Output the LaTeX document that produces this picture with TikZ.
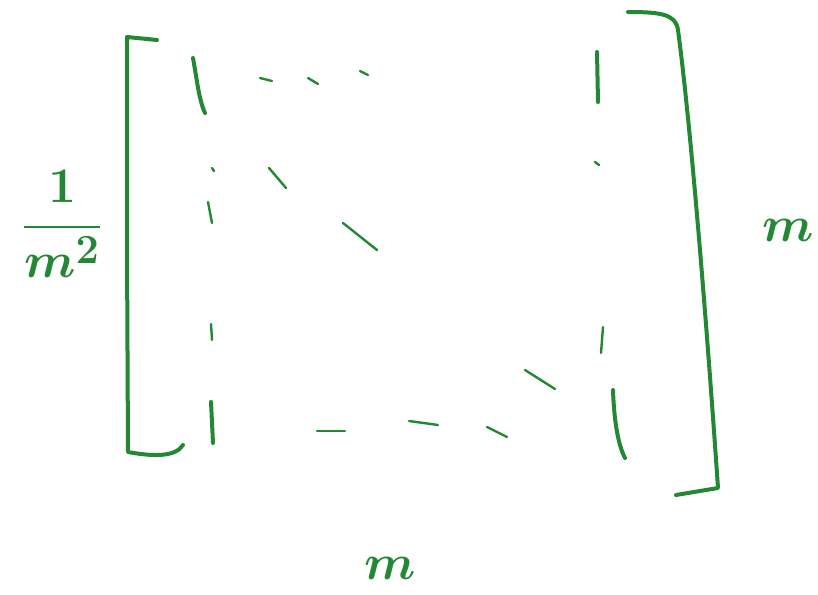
\documentclass[tikz,border=0pt]{standalone}
\usepackage{amsmath}
\usepackage{tikz}
\usetikzlibrary{positioning}

\definecolor{penGreen}{RGB}{34,136,52}

\begin{document}
\begin{tikzpicture}[
  x=0.5pt, y=-0.5pt,
  ink/.style={draw=penGreen, line cap=round, line join=round},
  thick ink/.style={ink, line width=2pt},
  thin ink/.style={ink, line width=1.2pt},
  lbl/.style={text=penGreen, inner sep=0pt},
]
\useasboundingbox (0,0) rectangle (818,594);

% brackets
\draw[thick ink] (157,40) -- (127,37) -- (127,250) -- (128,452)
  .. controls (150,456) and (175,458) .. (183,445);
\draw[thick ink] (628,12) .. controls (660,12) and (676,14) .. (678,30)
  .. controls (690,120) and (705,300) .. (718,488) -- (676,495);

% entries inside
\draw[thick ink] (193,58) .. controls (197,80) and (199,100) .. (205,113);
\draw[thin ink] (260,78) -- (272,81);
\draw[thin ink] (308,78) -- (318,84);
\draw[thin ink] (360,71) -- (368,75);
\draw[thick ink] (597,52) -- (598,102);
\draw[thin ink] (595,162) -- (599,165);
\draw[thin ink] (212,168) -- (214,171);
\draw[thin ink] (269,168) -- (286,188);
\draw[thin ink] (208,202) -- (212,223);
\draw[thin ink] (343,223) -- (377,250);
\draw[thin ink] (211,324) -- (212,340);
\draw[thin ink] (603,327) -- (601,353);
\draw[thin ink] (525,370) -- (555,389);
\draw[thick ink] (211,402) -- (213,443);
\draw[thin ink] (317,431) -- (345,431);
\draw[thin ink] (409,421) -- (438,425);
\draw[thin ink] (487,427) -- (507,437);
\draw[thick ink] (613,390) .. controls (614,420) and (618,445) .. (625,458);

% sizes
\node[lbl, font=\fontsize{28}{32}\selectfont\boldmath] (scale) at (62,224) {$\dfrac{1}{m^2}$};
\node[lbl, font=\fontsize{44}{48}\selectfont\boldmath, anchor=east] (rows) at (814,230) {$m$};
\node[lbl, font=\fontsize{44}{48}\selectfont\boldmath] (cols) at (390,568) {$m$};
\end{tikzpicture}
\end{document}
